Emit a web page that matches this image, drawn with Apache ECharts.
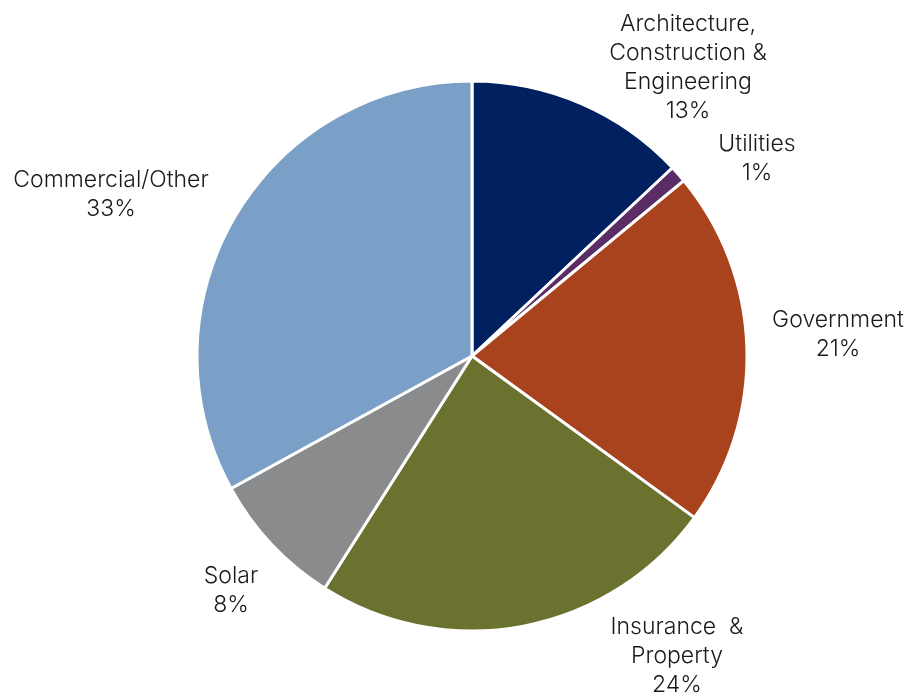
<!DOCTYPE html>
<html>
<head>
<meta charset="utf-8">
<script src="https://cdn.jsdelivr.net/npm/echarts@6/dist/echarts.min.js"></script>
<style>
  html, body { margin: 0; padding: 0; background: #ffffff; }
  #chart { width: 909px; height: 693px; }
</style>
</head>
<body>
<div id="chart"></div>
<script>
// Sector shares, clockwise from 12 o'clock
const categories = [
  'Architecture,\nConstruction &\nEngineering',
  'Utilities',
  'Government',
  'Insurance  &\nProperty',
  'Solar',
  'Commercial/Other'
];
const shares = [13, 1, 21, 24, 8, 33];

// Slice fills
const sliceColors = ['#002060', '#5B2D66', '#A9431E', '#6B7230', '#898B8D', '#7BA0C7'];

// Label anchor points (centre of each text block), in pixels
const labelSpots = [
  [688, 68],
  [757, 159],
  [838, 335],
  [677, 656],
  [231, 591],
  [111, 195]
];

const chart = echarts.init(document.getElementById('chart'), null, { renderer: 'canvas' });

chart.setOption({
  animation: false,
  backgroundColor: '#ffffff',
  series: [{
    type: 'pie',
    center: [472, 356],
    radius: 275,
    startAngle: 90,
    clockwise: true,
    avoidLabelOverlap: false,
    itemStyle: { borderColor: '#ffffff', borderWidth: 3 },
    label: {
      show: true,
      position: 'outside',
      color: '#1a1a1a',
      fontFamily: 'Inter, "Open Sans", sans-serif',
      fontWeight: 300,
      fontSize: 23,
      lineHeight: 29,
      align: 'center',
      formatter: p => p.name + '\n' + p.value + '%'
    },
    labelLine: { show: false },
    labelLayout: p => ({
      x: labelSpots[p.dataIndex][0],
      y: labelSpots[p.dataIndex][1],
      align: 'center',
      verticalAlign: 'middle'
    }),
    data: categories.map((name, i) => ({
      name: name,
      value: shares[i],
      itemStyle: { color: sliceColors[i] }
    }))
  }]
});
</script>
</body>
</html>
